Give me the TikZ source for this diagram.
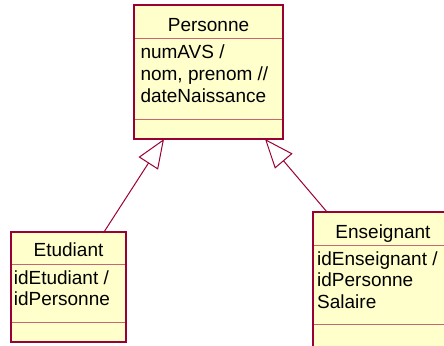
\documentclass[tikz,border=0pt]{standalone}
\usepackage{fontspec}
\setmainfont{Liberation Sans}
\usetikzlibrary{arrows.meta}
\definecolor{umlfill}{RGB}{255,255,204}
\definecolor{umlline}{RGB}{153,0,51}
\definecolor{umlsep}{RGB}{200,100,115}
\begin{document}
\begin{tikzpicture}[x=1bp,y=-1bp,
  classbox/.style={draw=umlline,fill=umlfill,line width=1.5bp,rectangle,inner sep=0pt,outer sep=0pt,anchor=north west},
  sepline/.style={draw=umlsep,line width=1bp},
  txt/.style={inner sep=0pt,outer sep=0pt,anchor=base west,font=\fontsize{19bp}{22bp}\selectfont},
  ttl/.style={inner sep=0pt,outer sep=0pt,anchor=base,font=\fontsize{19bp}{22bp}\selectfont},
  gen/.style={draw=umlline,line width=1bp,-{Triangle[open,length=29bp,width=23bp,line width=1bp]}}]
\useasboundingbox (0,0) rectangle (444,345);
\clip (0,0) rectangle (444,345);

% Personne
\node[classbox,minimum width=149bp,minimum height=134bp] (pers) at (134,5) {};
\draw[sepline] (135,38) -- (282,38);
\draw[sepline] (135,119) -- (282,119);
\node[ttl] (persT) at (208.5,31) {Personne};
\node[txt] (persA1) at (140.5,58.5) {numAVS /};
\node[txt] (persA2) at (140.5,80.3) {nom, prenom //};
\node[txt] (persA3) at (140.5,102) {dateNaissance};

% Etudiant
\node[classbox,minimum width=115bp,minimum height=110bp] (etud) at (11,232) {};
\draw[sepline] (12,264) -- (125,264);
\draw[sepline] (12,322) -- (125,322);
\node[ttl] (etudT) at (68.5,256.7) {Etudiant};
\node[txt] (etudA1) at (13.8,284) {idEtudiant /};
\node[txt] (etudA2) at (13.8,305.7) {idPersonne};

% Enseignant
\node[classbox,minimum width=140bp,minimum height=160bp] (ens) at (313,212) {};
\draw[sepline] (314,245) -- (452,245);
\draw[sepline] (314,324) -- (452,324);
\node[ttl] (ensT) at (383,238.3) {Enseignant};
\node[txt] (ensA1) at (317.2,265) {idEnseignant /};
\node[txt] (ensA2) at (317.2,286.7) {idPersonne};
\node[txt] (ensA3) at (317.2,308) {Salaire};

% Generalisations
\draw[gen] ([xshift=93bp]etud.north west) -- ([xshift=30bp]pers.south west);
\draw[gen] ([xshift=14bp]ens.north west) -- ([xshift=131bp]pers.south west);
\end{tikzpicture}
\end{document}
